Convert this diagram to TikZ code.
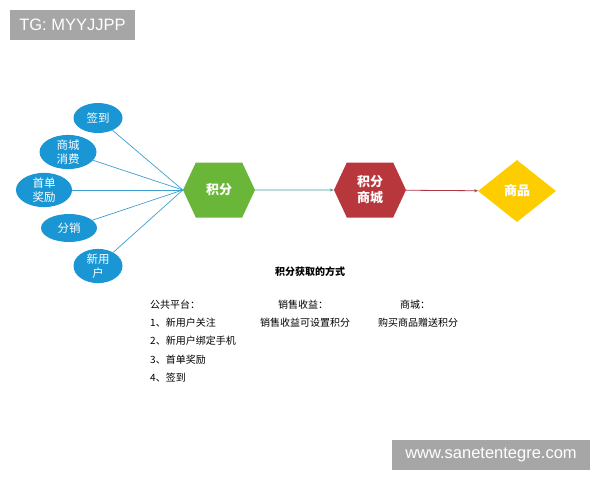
\documentclass[tikz,border=0pt]{standalone}
\usepackage{fontspec}
\setmainfont{Noto Sans CJK SC}
\newfontfamily\wmfont{Liberation Sans}
\usepackage{xcolor}
\usetikzlibrary{positioning, arrows.meta, shapes.geometric, shapes.symbols}
\definecolor{wayblue}{HTML}{1A96D4}
\definecolor{linkblue}{HTML}{3A9FD0}
\definecolor{jfgreen}{HTML}{6AB638}
\definecolor{mallred}{HTML}{B8373D}
\definecolor{goodsyellow}{HTML}{FDCD00}
\definecolor{tealline}{HTML}{3C9C9C}
\definecolor{redline}{HTML}{B03545}
\definecolor{wmgray}{HTML}{A6A6A6}
\tikzset{
  way/.style={ellipse, fill=wayblue, text=white, inner sep=0pt, minimum width=50pt,
    minimum height=30pt, align=center, font=\fontsize{11.5}{13.5}\selectfont},
  hexa/.style={signal, signal to=east and west, signal pointer angle=130, inner sep=0pt,
    minimum width=72pt, minimum height=55pt, text=white, align=center,
    font=\fontsize{13}{16}\selectfont\bfseries},
  wm/.style={fill=wmgray, text=white, inner sep=0pt, minimum height=30pt, font=\wmfont},
  txt/.style={inner sep=0pt, font=\fontsize{10}{12}\selectfont}
}

\begin{document}
\begin{tikzpicture}[x=1pt, y=-1pt]
    \useasboundingbox (0,0) rectangle (600,480);

    % Watermarks
    \node[wm, minimum width=125pt, font=\wmfont\fontsize{16.5}{18}\selectfont] (tg) at (72.5,25) {TG: MYYJJPP};
    \node[wm, minimum width=198pt, font=\wmfont\fontsize{16.5}{18}\selectfont] (www) at (491,455) {www.sanetentegre.com};

    % Ways to get points
    \node[way, minimum width=49pt] (qd) at (98,118) {签到};
    \node[way, minimum width=57pt] (scxf) at (68,152) {商城\\消费};
    \node[way, minimum width=56pt] (sdjl) at (44,190) {首单\\奖励};
    \node[way, minimum width=56pt, minimum height=28pt] (fx) at (69,228) {分销};
    \node[way, minimum width=49pt] (xyh) at (98,266) {新用\\户};

    % Chain
    \node[hexa, fill=jfgreen] (jf) at (219,190) {积分};
    \node[hexa, fill=mallred] (jfsc) at (370,190) {积分\\商城};
    \node[diamond, fill=goodsyellow, inner sep=0pt, minimum width=78pt, minimum height=62pt,
      text=white, font=\fontsize{13}{16}\selectfont\bfseries] (sp) at (517,191) {商品};

    \foreach \w in {qd, scxf, sdjl, fx, xyh}
        \draw[linkblue, line width=0.7pt] (\w) -- (jf.west);
    \draw[tealline, line width=0.8pt, -{Stealth[length=4pt, width=3pt]}] (jf) -- (jfsc);
    \draw[redline, line width=0.8pt, -{Stealth[length=4pt, width=3pt]}] (jfsc) -- (sp);

    % Text below
    \node[txt, font=\fontsize{10}{12}\selectfont\bfseries] (title) at (310,272) {积分获取的方式};
    \node[txt, anchor=west] (gz) at (150,305) {公共平台：};
    \node[txt, anchor=west] (l1) at (150,323) {1、新用户关注};
    \node[txt, anchor=west] (l2) at (150,341) {2、新用户绑定手机};
    \node[txt, anchor=west] (l3) at (150,360) {3、首单奖励};
    \node[txt, anchor=west] (l4) at (150,378) {4、签到};
    \node[txt] (xs) at (303,305) {销售收益：};
    \node[txt] (xs1) at (305,323) {销售收益可设置积分};
    \node[txt] (sc) at (415,305) {商城：};
    \node[txt] (sc1) at (418,323) {购买商品赠送积分};
\end{tikzpicture}
\end{document}
